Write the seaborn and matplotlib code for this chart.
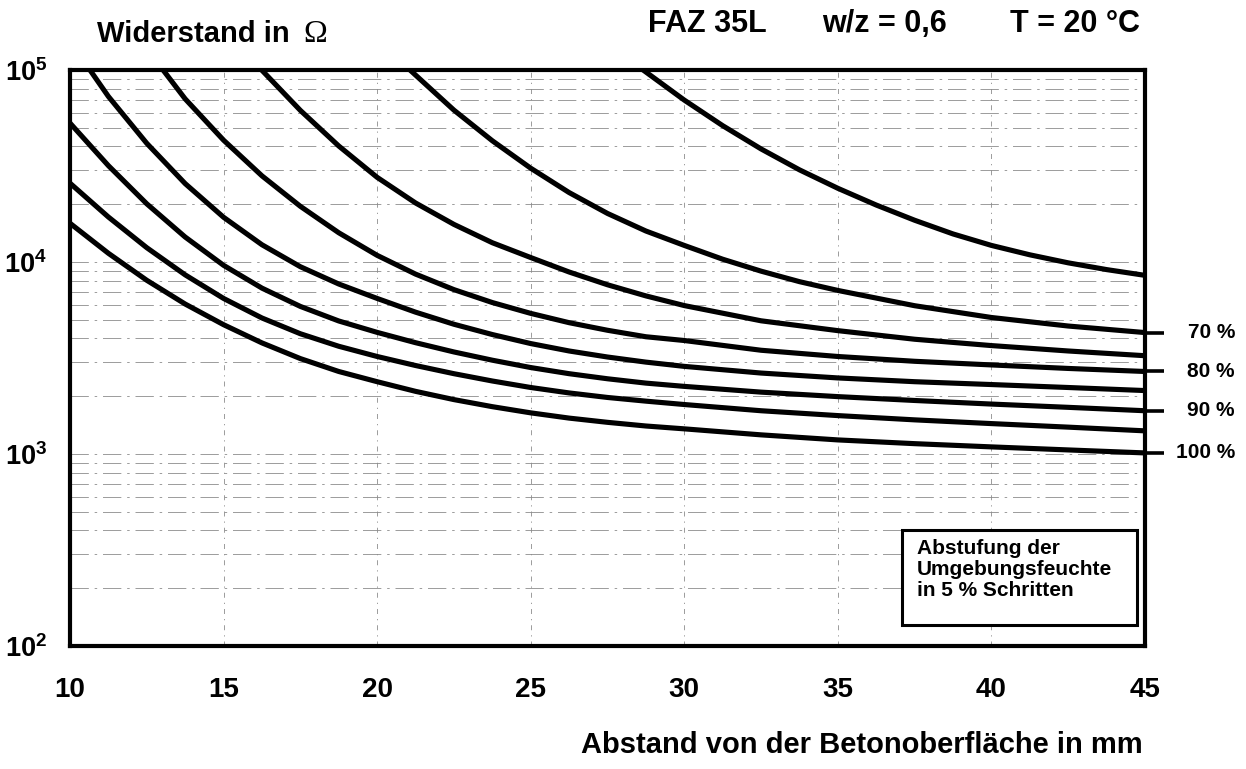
import matplotlib
matplotlib.use("Agg")
import matplotlib.pyplot as plt
import matplotlib.transforms as mtransforms
from matplotlib.patches import Rectangle
from matplotlib.ticker import LogLocator, NullFormatter
import pandas as pd
import seaborn as sns

# Electrical resistance of FAZ 35L concrete (w/z = 0.6, T = 20 °C) over
# the distance from the concrete surface, one curve per ambient humidity.
humidity = ["65 %", "70 %", "75 %", "80 %", "85 %", "90 %", "95 %", "100 %"]
labelled = ["70 %", "80 %", "90 %", "100 %"]

x_65 = [28.66, 30, 31.25, 32.5, 33.75, 35, 36.25, 37.5, 38.75, 40, 41.25,
        42.5, 43.75, 45]
r_65 = [100000, 69700, 51300, 38800, 30200, 24200, 19800, 16500, 14000,
        12200, 10900, 9900, 9130, 8520]

x_70 = [21.07, 22.5, 23.75, 25, 26.25, 27.5, 28.75, 30, 31.25, 32.5, 33.75,
        35, 37.5, 40, 42.5, 45]
r_70 = [100000, 61800, 42800, 30800, 23000, 17900, 14500, 12200, 10340,
        8960, 7900, 7110, 5920, 5140, 4640, 4290]

x_75 = [16.24, 17.5, 18.75, 20, 21.25, 22.5, 23.75, 25, 26.25, 27.5, 28.75,
        30, 32.5, 35, 37.5, 40, 42.5, 45]
r_75 = [100000, 61600, 40200, 27600, 20300, 15700, 12600, 10550, 8870, 7610,
        6660, 5930, 4940, 4390, 3960, 3670, 3440, 3250]

x_80 = [13.03, 13.75, 15, 16.25, 17.5, 18.75, 20, 21.25, 22.5, 23.75, 25,
        26.25, 27.5, 28.75, 30, 32.5, 35, 37.5, 40, 42.5, 45]
r_80 = [100000, 70700, 43100, 28100, 19500, 14200, 10830, 8650, 7180, 6150,
        5400, 4830, 4410, 4080, 3900, 3470, 3220, 3040, 2910, 2790, 2690]

x_85 = [10.65, 11.25, 12.5, 13.75, 15, 16.25, 17.5, 18.75, 20, 21.25, 22.5,
        23.75, 25, 26.25, 27.5, 28.75, 30, 32.5, 35, 37.5, 40, 42.5, 45]
r_85 = [100000, 72800, 41500, 25600, 17100, 12300, 9450, 7680, 6460, 5480,
        4740, 4190, 3760, 3440, 3200, 3010, 2860, 2640, 2490, 2380, 2300,
        2220, 2140]

x_90 = [10, 11.25, 12.5, 13.75, 15, 16.25, 17.5, 18.75, 20, 21.25, 22.5,
        23.75, 25, 26.25, 27.5, 28.75, 30, 32.5, 35, 37.5, 40, 42.5, 45]
r_90 = [52900, 31750, 20090, 13490, 9610, 7310, 5870, 4930, 4300, 3800,
        3400, 3080, 2820, 2620, 2465, 2340, 2250, 2100, 1990, 1900, 1820,
        1750, 1680]

x_95 = [10, 11.25, 12.5, 13.75, 15, 16.25, 17.5, 18.75, 20, 21.25, 22.5,
        23.75, 25, 26.25, 27.5, 28.75, 30, 32.5, 35, 37.5, 40, 42.5, 45]
r_95 = [25730, 17150, 11870, 8570, 6460, 5110, 4230, 3640, 3220, 2890, 2620,
        2400, 2220, 2080, 1970, 1885, 1810, 1680, 1585, 1506, 1440, 1380,
        1320]

x_100 = [10, 11.25, 12.5, 13.75, 15, 16.25, 17.5, 18.75, 20, 21.25, 22.5,
         23.75, 25, 26.25, 27.5, 28.75, 30, 32.5, 35, 37.5, 40, 42.5, 45]
r_100 = [15910, 11100, 8030, 6040, 4715, 3790, 3140, 2690, 2380, 2120, 1920,
         1764, 1638, 1538, 1462, 1399, 1352, 1258, 1184, 1132, 1089, 1050,
         1013]

x_ticks = [10, 15, 20, 25, 30, 35, 40, 45]
y_ticks = [1e2, 1e3, 1e4, 1e5]
y_tick_labels = [r"$\mathbf{10^{2}}$", r"$\mathbf{10^{3}}$",
                 r"$\mathbf{10^{4}}$", r"$\mathbf{10^{5}}$"]

xs = [x_65, x_70, x_75, x_80, x_85, x_90, x_95, x_100]
rs = [r_65, r_70, r_75, r_80, r_85, r_90, r_95, r_100]

frames = [pd.DataFrame({"Abstand": xv, "Widerstand": rv, "Feuchte": name})
          for name, xv, rv in zip(humidity, xs, rs)]
df = pd.concat(frames, ignore_index=True)

sns.set_theme(style="white")
plt.rcParams["font.family"] = ["Liberation Sans", "DejaVu Sans"]
plt.rcParams["mathtext.fontset"] = "custom"
plt.rcParams["mathtext.bf"] = "Liberation Sans:bold"
plt.rcParams["mathtext.rm"] = "Liberation Sans:bold"

W, H = 1246, 769
fig = plt.figure(figsize=(W / 100, H / 100), dpi=100)
ax = fig.add_axes([70 / W, 1 - 646 / H, 1075 / W, 576 / H])

sns.lineplot(data=df, x="Abstand", y="Widerstand", hue="Feuchte",
             hue_order=humidity, palette=["black"] * len(humidity),
             estimator=None, sort=False, legend=False, linewidth=3.7,
             ax=ax, zorder=3)
for line in ax.get_lines():
    line.set_solid_joinstyle("round")

ax.set_yscale("log")
ax.set_xlim(10, 45)
ax.set_ylim(1e2, 1e5)
ax.set_xlabel("")
ax.set_ylabel("")

ax.set_xticks(x_ticks)
ax.set_xticklabels([str(v) for v in x_ticks], fontsize=20, fontweight="bold")
ax.set_yticks(y_ticks)
ax.set_yticklabels(y_tick_labels, fontsize=19.5)
ax.yaxis.set_minor_locator(LogLocator(base=10, subs=range(2, 10)))
ax.yaxis.set_minor_formatter(NullFormatter())
ax.tick_params(which="minor", length=0)
ax.tick_params(which="major", direction="inout", length=13, width=2.4,
               color="black", labelcolor="black")
ax.tick_params(axis="x", pad=16)
ax.tick_params(axis="y", pad=10)

for spine in ax.spines.values():
    spine.set_visible(True)
    spine.set_color("black")
    spine.set_linewidth(3)
    spine.set_zorder(4)

# faint broken grid
ax.set_axisbelow(True)
ax.grid(which="both", axis="y", color="0.55", linewidth=0.6,
        linestyle=(0, (22, 7, 3, 7)))
ax.grid(which="major", axis="x", color="0.55", linewidth=0.6,
        linestyle=(0, (6, 6, 1.5, 6)))

# humidity markers at the right edge
trans = mtransforms.blended_transform_factory(ax.transAxes, ax.transData)
for name, rv in zip(humidity, rs):
    if name in labelled:
        ax.plot([1.0, 1.018], [rv[-1], rv[-1]], transform=trans, clip_on=False,
                color="black", linewidth=2.6, solid_capstyle="butt")
        ax.text(1.0837, rv[-1], name, transform=trans, ha="right",
                va="center", fontsize=15, fontweight="bold", color="black")

# note box
ax.add_patch(Rectangle((0.774, 0.0365), 0.2186, 0.165, transform=ax.transAxes,
                       facecolor="white", edgecolor="black", linewidth=2.2,
                       zorder=5))
ax.text(0.7875, 0.186, "Abstufung der\nUmgebungsfeuchte\nin 5 % Schritten",
        transform=ax.transAxes, ha="left", va="top", fontsize=15,
        fontweight="bold", linespacing=1.13, color="black", zorder=6)

# titles
fig.text(97 / W, 1 - 34 / H, "Widerstand in", ha="left", va="center",
         fontsize=21, fontweight="bold", color="black")
fig.text(303 / W, 1 - 34 / H, "Ω", ha="left", va="center", fontsize=23,
         family=["Liberation Serif", "DejaVu Serif"], color="black")
fig.text(648 / W, 1 - 24 / H, "FAZ 35L", ha="left", va="center",
         fontsize=22, fontweight="bold", color="black")
fig.text(884 / W, 1 - 24 / H, "w/z = 0,6", ha="center", va="center",
         fontsize=22, fontweight="bold", color="black")
fig.text(1140 / W, 1 - 24 / H, "T = 20 °C", ha="right", va="center",
         fontsize=22, fontweight="bold", color="black")
fig.text(1143 / W, 1 - 745 / H, "Abstand von der Betonoberfläche in mm",
         ha="right", va="center", fontsize=21, fontweight="bold",
         color="black")

fig.savefig("out.png", dpi=100, facecolor="white")
